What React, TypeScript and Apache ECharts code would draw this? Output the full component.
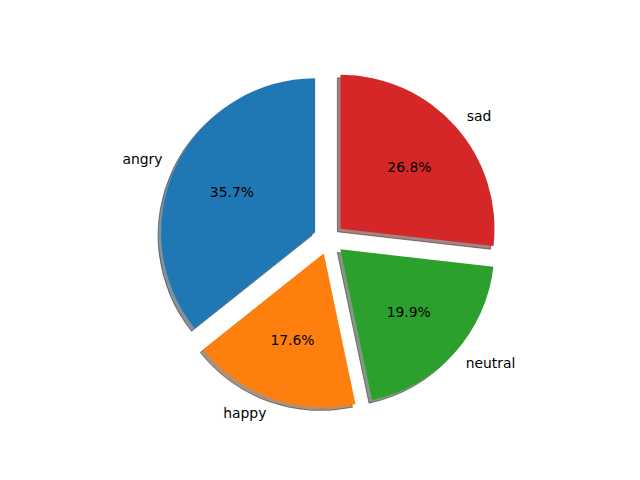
import React, { useEffect, useRef } from "react";
import * as echarts from "echarts";

const categories = ["angry", "happy", "neutral", "sad"];
const values = [35.7, 17.6, 19.9, 26.8];
const colors = ["#1f77b4", "#ff7f0e", "#2ca02c", "#d62728"];
const shadowColors = [
  "rgba(9,36,54,0.5)",
  "rgba(77,38,4,0.5)",
  "rgba(13,48,13,0.5)",
  "rgba(64,12,12,0.5)",
];

const CX = 329;
const CY = 239;
const R = 154;
const EXPLODE = 0.1 * R;
const SHADOW = 0.02 * R;
const FONT = { fontFamily: "DejaVu Sans", fontSize: 13.9, color: "#000" };

export default function App() {
  const ref = useRef<HTMLDivElement>(null);
  useEffect(() => {
    if (!ref.current) return;
    const chart = echarts.init(ref.current, undefined, { renderer: "svg" });
    const common = {
      type: "pie" as const,
      startAngle: 90,
      clockwise: false,
      selectedMode: "multiple" as const,
      selectedOffset: EXPLODE,
      avoidLabelOverlap: false,
      percentPrecision: 1,
      emphasis: { disabled: true },
      select: { disabled: false },
    };
    chart.setOption({
      animation: false,
      backgroundColor: "#ffffff",
      series: [
        {
          ...common,
          name: "shadow",
          silent: true,
          center: [CX - SHADOW, CY + SHADOW],
          radius: R,
          label: { show: false },
          labelLine: { show: false },
          data: categories.map((c, i) => ({
            name: c,
            value: values[i],
            selected: true,
            itemStyle: {
              color: shadowColors[i],
              borderColor: shadowColors[i],
              borderWidth: 1,
            },
            select: {
              itemStyle: {
                color: shadowColors[i],
                borderColor: shadowColors[i],
                borderWidth: 1,
              },
            },
          })),
        },
        {
          ...common,
          name: "main",
          center: [CX, CY],
          radius: R,
          label: {
            show: true,
            position: "outside",
            formatter: "{b}",
            distanceToLabelLine: 0,
            ...FONT,
          },
          labelLine: { show: false, length: 0.1 * R, length2: 0 },
          data: categories.map((c, i) => ({
            name: c,
            value: values[i],
            selected: true,
            itemStyle: { color: colors[i], borderWidth: 0 },
            select: { itemStyle: { color: colors[i], borderWidth: 0 } },
          })),
        },
        {
          ...common,
          name: "pct",
          silent: true,
          center: [CX, CY],
          radius: 2 * (0.6 * R - 3),
          label: {
            show: true,
            position: "inside",
            formatter: "{d}%",
            ...FONT,
          },
          labelLine: { show: false },
          data: categories.map((c, i) => ({
            name: c,
            value: values[i],
            selected: true,
            itemStyle: { color: "rgba(0,0,0,0)", borderWidth: 0 },
            select: { itemStyle: { color: "rgba(0,0,0,0)", borderWidth: 0 } },
          })),
        },
      ],
    });
    return () => chart.dispose();
  }, []);
  return (
    <div
      ref={ref}
      style={{ position: "fixed", left: 0, top: 0, width: 640, height: 480 }}
    />
  );
}
